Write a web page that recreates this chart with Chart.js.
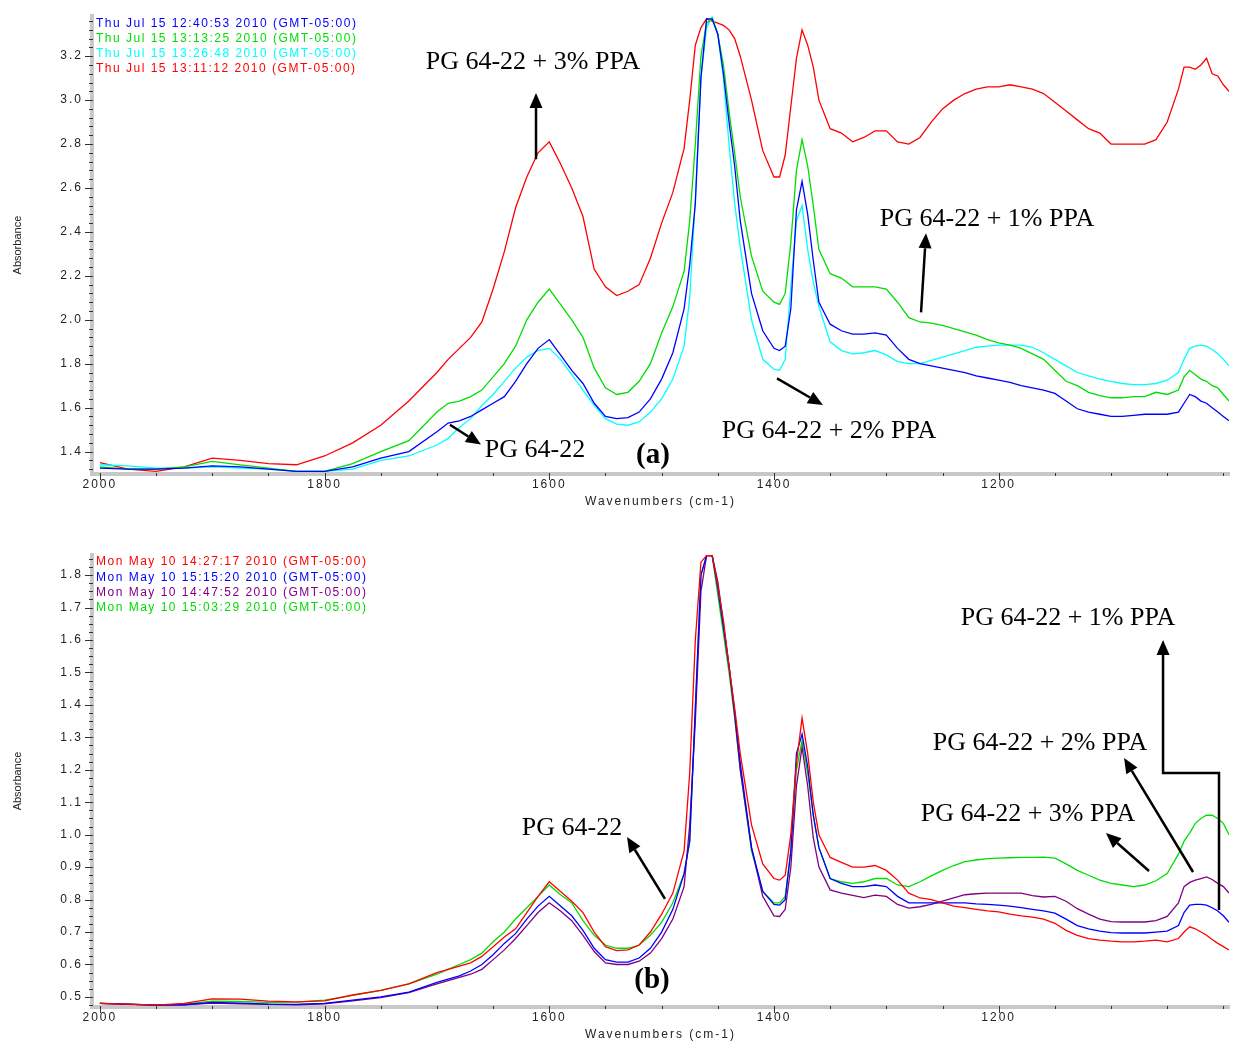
<!DOCTYPE html>
<html>
<head>
<meta charset="utf-8">
<script src="https://cdn.jsdelivr.net/npm/chart.js@4.4.0/dist/chart.umd.min.js"></script>
<style>
  html, body { margin: 0; padding: 0; background: #fff; }
  #wrapA { position: absolute; left: 0; top: 0; width: 1237px; height: 520px; }
  #wrapB { position: absolute; left: 0; top: 520px; width: 1237px; height: 523px; }
</style>
</head>
<body>
<div id="wrapA"><canvas id="chartA"></canvas></div>
<div id="wrapB"><canvas id="chartB"></canvas></div>
<script>
// shared wavenumber grid (cm-1), both panels
const wavenumbers = [
  2000, 1975, 1950, 1925, 1900, 1875, 1850, 1825, 1800, 1775,
  1750, 1725, 1700, 1690, 1680, 1670, 1660, 1650, 1640, 1630,
  1620, 1610, 1600, 1590, 1580, 1570, 1560, 1550, 1540, 1530,
  1520, 1510, 1500, 1490, 1480, 1475, 1470, 1465, 1460, 1455,
  1450, 1445, 1440, 1435, 1430, 1420, 1410, 1400, 1395, 1390,
  1385, 1380, 1375, 1370, 1365, 1360, 1350, 1340, 1330, 1320,
  1310, 1300, 1290, 1280, 1270, 1260, 1250, 1240, 1230, 1220,
  1210, 1200, 1190, 1180, 1170, 1160, 1150, 1140, 1130, 1120,
  1110, 1100, 1090, 1080, 1070, 1060, 1050, 1040, 1035, 1030,
  1025, 1020, 1015, 1010, 1005, 1000, 995
];

// ---- panel (a) absorbance ----
const a_blue = [
  1.325, 1.32, 1.32, 1.325, 1.335, 1.33, 1.32, 1.31, 1.31, 1.33,
  1.37, 1.40, 1.49, 1.53, 1.54, 1.56, 1.59, 1.62, 1.65, 1.72,
  1.80, 1.87, 1.91, 1.84, 1.77, 1.71, 1.62, 1.56, 1.55, 1.555,
  1.58, 1.64, 1.73, 1.85, 2.05, 2.25, 2.53, 3.10, 3.37, 3.37,
  3.30, 3.12, 2.90, 2.70, 2.45, 2.12, 1.95, 1.87, 1.86, 1.88,
  2.05, 2.50, 2.63, 2.48, 2.27, 2.08, 1.98, 1.95, 1.935, 1.935,
  1.94, 1.93, 1.87, 1.82, 1.80, 1.79, 1.78, 1.77, 1.76, 1.745,
  1.735, 1.725, 1.715, 1.70, 1.69, 1.68, 1.665, 1.63, 1.595, 1.58,
  1.57, 1.56, 1.56, 1.565, 1.57, 1.57, 1.57, 1.58, 1.62, 1.66,
  1.65, 1.63, 1.62, 1.60, 1.58, 1.56, 1.54
];
const a_green = [
  1.33, 1.32, 1.32, 1.33, 1.355, 1.34, 1.325, 1.31, 1.31, 1.345,
  1.40, 1.45, 1.58, 1.62, 1.63, 1.65, 1.68, 1.74, 1.80, 1.88,
  2.00, 2.08, 2.14, 2.07, 2.00, 1.92, 1.78, 1.69, 1.66, 1.67,
  1.72, 1.80, 1.94, 2.06, 2.22, 2.45, 2.80, 3.20, 3.35, 3.37,
  3.30, 3.16, 2.95, 2.76, 2.56, 2.29, 2.13, 2.08, 2.07, 2.12,
  2.35, 2.68, 2.82, 2.70, 2.52, 2.32, 2.21, 2.19, 2.15, 2.15,
  2.15, 2.14, 2.08, 2.01, 1.99, 1.985, 1.975, 1.96, 1.945, 1.93,
  1.91, 1.895, 1.885, 1.87, 1.845, 1.82, 1.77, 1.72, 1.70, 1.67,
  1.655, 1.645, 1.645, 1.65, 1.65, 1.67, 1.66, 1.68, 1.74, 1.77,
  1.75, 1.73, 1.72, 1.70, 1.69, 1.66, 1.63
];
const a_cyan = [
  1.34, 1.335, 1.325, 1.325, 1.33, 1.325, 1.32, 1.31, 1.31, 1.32,
  1.36, 1.38, 1.43, 1.46, 1.51, 1.55, 1.61, 1.66, 1.72, 1.78,
  1.83, 1.86, 1.87, 1.82, 1.75, 1.68, 1.61, 1.55, 1.525, 1.52,
  1.535, 1.58, 1.64, 1.73, 1.88, 2.10, 2.55, 3.10, 3.33, 3.38,
  3.30, 3.10, 2.80, 2.53, 2.33, 2.00, 1.82, 1.775, 1.77, 1.82,
  2.15, 2.45, 2.52, 2.32, 2.17, 2.06, 1.90, 1.86, 1.845, 1.85,
  1.86, 1.84, 1.81, 1.80, 1.80, 1.815, 1.83, 1.845, 1.86, 1.875,
  1.88, 1.885, 1.885, 1.885, 1.875, 1.85, 1.82, 1.79, 1.76, 1.745,
  1.73, 1.72, 1.71, 1.705, 1.705, 1.71, 1.725, 1.76, 1.82, 1.87,
  1.88, 1.885, 1.88, 1.865, 1.845, 1.82, 1.79
];
const a_red = [
  1.35, 1.32, 1.31, 1.33, 1.37, 1.36, 1.345, 1.34, 1.38, 1.44,
  1.52, 1.63, 1.76, 1.82, 1.87, 1.92, 1.99, 2.14, 2.31, 2.51,
  2.65, 2.76, 2.81, 2.71, 2.60, 2.47, 2.23, 2.15, 2.11, 2.13,
  2.16, 2.28, 2.44, 2.58, 2.78, 3.00, 3.25, 3.33, 3.37, 3.36,
  3.35, 3.34, 3.32, 3.28, 3.20, 3.00, 2.77, 2.65, 2.65, 2.75,
  2.97, 3.19, 3.32, 3.25, 3.15, 3.00, 2.87, 2.85, 2.81, 2.83,
  2.86, 2.86, 2.81, 2.80, 2.83, 2.90, 2.96, 3.00, 3.03, 3.05,
  3.06, 3.06, 3.07, 3.06, 3.05, 3.03, 2.99, 2.95, 2.91, 2.87,
  2.85, 2.80, 2.80, 2.80, 2.80, 2.82, 2.90, 3.05, 3.15, 3.15,
  3.14, 3.16, 3.19, 3.12, 3.11, 3.07, 3.04
];

// ---- panel (b) absorbance ----
const b_red = [
  0.48, 0.478, 0.475, 0.48, 0.494, 0.493, 0.487, 0.485, 0.488, 0.506,
  0.52, 0.54, 0.575, 0.585, 0.595, 0.605, 0.625, 0.655, 0.685, 0.71,
  0.76, 0.81, 0.855, 0.825, 0.795, 0.76, 0.70, 0.655, 0.643, 0.645,
  0.66, 0.70, 0.755, 0.82, 0.95, 1.19, 1.60, 1.84, 1.86, 1.86,
  1.77, 1.66, 1.52, 1.39, 1.25, 1.03, 0.91, 0.865, 0.86, 0.875,
  1.00, 1.22, 1.36, 1.25, 1.10, 1.00, 0.93, 0.915, 0.90, 0.90,
  0.905, 0.89, 0.86, 0.82, 0.805, 0.80, 0.79, 0.78, 0.775, 0.77,
  0.765, 0.762, 0.755, 0.75, 0.746, 0.74, 0.727, 0.705, 0.69, 0.68,
  0.675, 0.672, 0.67, 0.67, 0.672, 0.675, 0.67, 0.68, 0.70, 0.716,
  0.71, 0.70, 0.69, 0.677, 0.665, 0.655, 0.645
];
const b_blue = [
  0.48, 0.478, 0.475, 0.476, 0.483, 0.481, 0.478, 0.477, 0.48, 0.49,
  0.50, 0.515, 0.545, 0.555, 0.565, 0.58, 0.60, 0.63, 0.665, 0.695,
  0.74, 0.78, 0.81, 0.78, 0.75, 0.705, 0.65, 0.615, 0.607, 0.607,
  0.62, 0.65, 0.70, 0.77, 0.88, 0.98, 1.39, 1.80, 1.86, 1.86,
  1.76, 1.64, 1.52, 1.38, 1.22, 0.96, 0.825, 0.785, 0.783, 0.80,
  0.95, 1.25, 1.31, 1.21, 1.06, 0.96, 0.865, 0.85, 0.84, 0.84,
  0.845, 0.84, 0.81, 0.79, 0.79, 0.79, 0.79, 0.79, 0.79, 0.787,
  0.785, 0.783, 0.78, 0.775, 0.77, 0.765, 0.758, 0.74, 0.72, 0.71,
  0.703, 0.698, 0.697, 0.697, 0.697, 0.70, 0.703, 0.72, 0.76, 0.783,
  0.785, 0.785, 0.783, 0.775, 0.765, 0.75, 0.73
];
const b_purple = [
  0.48, 0.477, 0.475, 0.476, 0.481, 0.479, 0.477, 0.476, 0.479, 0.488,
  0.498, 0.513, 0.54, 0.55, 0.56, 0.57, 0.585, 0.615, 0.645, 0.68,
  0.72, 0.76, 0.79, 0.765, 0.735, 0.69, 0.64, 0.605, 0.60, 0.60,
  0.61, 0.635, 0.68, 0.74, 0.84, 1.03, 1.35, 1.75, 1.86, 1.86,
  1.78, 1.65, 1.52, 1.37, 1.20, 0.96, 0.81, 0.75, 0.748, 0.77,
  0.90, 1.15, 1.27, 1.15, 0.99, 0.90, 0.83, 0.82, 0.813, 0.806,
  0.814, 0.81, 0.785, 0.774, 0.778, 0.785, 0.795, 0.805, 0.815, 0.818,
  0.82, 0.82, 0.82, 0.82, 0.812, 0.808, 0.81, 0.795, 0.772, 0.755,
  0.74, 0.732, 0.731, 0.731, 0.731, 0.735, 0.748, 0.79, 0.84, 0.853,
  0.86, 0.865, 0.87, 0.862, 0.85, 0.84, 0.82
];
const b_green = [
  0.48, 0.478, 0.475, 0.478, 0.487, 0.486, 0.483, 0.484, 0.49, 0.505,
  0.52, 0.54, 0.57, 0.585, 0.60, 0.615, 0.635, 0.67, 0.70, 0.74,
  0.775, 0.81, 0.845, 0.815, 0.79, 0.735, 0.69, 0.66, 0.65, 0.65,
  0.66, 0.69, 0.73, 0.79, 0.88, 0.98, 1.39, 1.80, 1.86, 1.86,
  1.74, 1.62, 1.50, 1.36, 1.20, 0.95, 0.825, 0.79, 0.79, 0.81,
  0.95, 1.20, 1.29, 1.19, 1.06, 0.96, 0.865, 0.855, 0.85, 0.855,
  0.865, 0.865, 0.845, 0.84, 0.855, 0.873, 0.89, 0.905, 0.917, 0.922,
  0.926, 0.928, 0.929, 0.93, 0.93, 0.931, 0.928, 0.91, 0.89, 0.875,
  0.86, 0.85, 0.845, 0.84, 0.845, 0.858, 0.88, 0.94, 0.98, 1.005,
  1.035, 1.05, 1.06, 1.06, 1.05, 1.035, 1.00
];

// legend (timestamp) lines, in the order shown
const legendA = ["Thu Jul 15 12:40:53 2010 (GMT-05:00)", "Thu Jul 15 13:13:25 2010 (GMT-05:00)",
                 "Thu Jul 15 13:26:48 2010 (GMT-05:00)", "Thu Jul 15 13:11:12 2010 (GMT-05:00)"];
const legendB = ["Mon May 10 14:27:17 2010 (GMT-05:00)", "Mon May 10 15:15:20 2010 (GMT-05:00)",
                 "Mon May 10 14:47:52 2010 (GMT-05:00)", "Mon May 10 15:03:29 2010 (GMT-05:00)"];

// annotation anchors in data units: [wavenumber, absorbance]
const notesA = ["PG 64-22 + 3% PPA", "PG 64-22 + 1% PPA", "PG 64-22 + 2% PPA", "PG 64-22"];
const notesAAt = [[1614.5, 3.171], [1210.4, 2.457], [1351, 1.495], [1612.7, 1.405]];
const arrowsA = [
  [[1611.8, 2.731], [1611.8, 3.032]],
  [[1269.1, 2.034], [1264.7, 2.394]],
  [[1397.3, 1.733], [1356.4, 1.612]],
  [[1688.4, 1.522], [1660.8, 1.432]]
];
const notesB = ["PG 64-22", "PG 64-22 + 1% PPA", "PG 64-22 + 2% PPA", "PG 64-22 + 3% PPA"];
const notesBAt = [[1579.8, 1.021], [1138.3, 1.668], [1163.2, 1.283], [1173.9, 1.064]];
const arrowsB = [
  [[1497, 0.802], [1530.8, 0.993]],
  [[1003.9, 0.768], [1003.9, 1.190], [1053.7, 1.190], [1053.7, 1.600]],
  [[1027, 0.885], [1088.4, 1.236]],
  [[1066.2, 0.888], [1104.5, 1.005]]
];

const SANS = '"Liberation Sans", Arial, sans-serif';
const SERIF = '"Liberation Serif", "Times New Roman", serif';
Chart.defaults.font.family = SANS;

function onStep(v, step) {
  const r = v / step;
  return Math.abs(r - Math.round(r)) < 1e-6;
}

function drawArrow(ctx, pts) {
  const head = 15, half = 6.5;
  const n = pts.length;
  const [x1, y1] = pts[n - 2], [x2, y2] = pts[n - 1];
  const a = Math.atan2(y2 - y1, x2 - x1);
  const bx = x2 - head * Math.cos(a), by = y2 - head * Math.sin(a);
  ctx.beginPath();
  ctx.moveTo(pts[0][0], pts[0][1]);
  for (let i = 1; i < n - 1; i++) ctx.lineTo(pts[i][0], pts[i][1]);
  ctx.lineTo(bx, by);
  ctx.stroke();
  ctx.beginPath();
  ctx.moveTo(x2, y2);
  ctx.lineTo(bx + half * Math.sin(a), by - half * Math.cos(a));
  ctx.lineTo(bx - half * Math.sin(a), by + half * Math.cos(a));
  ctx.closePath();
  ctx.fill();
}

// draws axis dashes, timestamp legend, y title and the text/arrow notes
function makeDecor(legend, colors, notes, notesAt, arrows, panel, panelAt) {
  return {
    id: 'decor',
    beforeDraw(chart) { chart.ctx.letterSpacing = '2px'; },
    afterDraw(chart) {
      const { ctx, chartArea: ca, scales: { x, y } } = chart;
      ctx.save();
      // tick dashes on grey axis bars
      ctx.strokeStyle = '#333';
      ctx.lineWidth = 1;
      x.ticks.forEach(t => {
        const px = Math.round(x.getPixelForValue(t.value)) + 0.5;
        ctx.beginPath();
        ctx.moveTo(px, ca.bottom - 1);
        ctx.lineTo(px, ca.bottom + (t.label !== '' ? 6 : 2));
        ctx.stroke();
      });
      y.ticks.forEach(t => {
        const py = Math.round(y.getPixelForValue(t.value)) + 0.5;
        ctx.beginPath();
        ctx.moveTo(ca.left + 1, py);
        ctx.lineTo(ca.left - (t.label !== '' ? 7 : 3), py);
        ctx.stroke();
      });

      // timestamp legend
      ctx.font = '12px ' + SANS;
      ctx.letterSpacing = '1.5px';
      ctx.textAlign = 'left';
      ctx.textBaseline = 'middle';
      legend.forEach((s, i) => {
        ctx.fillStyle = colors[i];
        ctx.fillText(s, ca.left + 4, ca.top + 7 + i * 15.3);
      });

      // y axis title
      ctx.letterSpacing = '0px';
      ctx.fillStyle = '#222';
      ctx.font = '11px ' + SANS;
      ctx.textAlign = 'center';
      ctx.save();
      ctx.translate(18, (ca.top + ca.bottom) / 2);
      ctx.rotate(-Math.PI / 2);
      ctx.fillText('Absorbance', 0, 0);
      ctx.restore();

      // notes
      ctx.fillStyle = '#000';
      ctx.strokeStyle = '#000';
      ctx.lineWidth = 2.5;
      ctx.font = '26px ' + SERIF;
      notes.forEach((s, i) => {
        ctx.fillText(s, x.getPixelForValue(notesAt[i][0]), y.getPixelForValue(notesAt[i][1]));
      });
      arrows.forEach(a => drawArrow(ctx, a.map(p => [x.getPixelForValue(p[0]), y.getPixelForValue(p[1])])));
      ctx.font = 'bold 29px ' + SERIF;
      ctx.fillText(panel, x.getPixelForValue(panelAt[0]), y.getPixelForValue(panelAt[1]));
      ctx.restore();
    }
  };
}

function series(vals, color) {
  return {
    data: wavenumbers.map((w, i) => ({ x: w, y: vals[i] })),
    borderColor: color,
    borderWidth: 1.3,
    pointRadius: 0,
    tension: 0,
    fill: false
  };
}

function buildOptions(yMin, yMax, yStep, yMajor, padTop, xHeight, titlePad) {
  return {
    responsive: true,
    maintainAspectRatio: false,
    animation: false,
    devicePixelRatio: 1,
    layout: { padding: { top: padTop, right: 8, left: 0, bottom: 0 } },
    plugins: { legend: { display: false }, tooltip: { enabled: false } },
    scales: {
      x: {
        type: 'linear',
        reverse: true,
        min: 995,
        max: 2007,
        afterFit: s => { s.height = xHeight; },
        border: { display: true, color: '#c8c8c8', width: 4 },
        grid: { drawOnChartArea: false, drawTicks: false, color: 'transparent' },
        ticks: {
          stepSize: 50,
          includeBounds: false,
          autoSkip: false,
          maxRotation: 0,
          padding: 3,
          color: '#222',
          font: { size: 12 },
          callback: v => (onStep(v, 200) && v >= 1200) ? String(Math.round(v)) : ''
        },
        title: {
          display: true,
          text: 'Wavenumbers (cm-1)',
          color: '#222',
          font: { size: 12 },
          padding: { top: 0, bottom: titlePad }
        }
      },
      y: {
        type: 'linear',
        min: yMin,
        max: yMax,
        afterFit: s => { s.width = 92; },
        border: { display: true, color: '#c8c8c8', width: 4 },
        grid: { drawOnChartArea: false, drawTicks: false, color: 'transparent' },
        ticks: {
          stepSize: yStep,
          includeBounds: false,
          autoSkip: false,
          padding: 9,
          color: '#222',
          font: { size: 12 },
          callback: v => onStep(v, yMajor) ? v.toFixed(1) : ''
        }
      }
    }
  };
}

const colorsA = ['#0000ff', '#00dd00', '#00ffff', '#ff0000'];
new Chart(document.getElementById('chartA'), {
  type: 'line',
  data: {
    datasets: [
      series(a_blue, colorsA[0]),
      series(a_green, colorsA[1]),
      series(a_cyan, colorsA[2]),
      series(a_red, colorsA[3])
    ]
  },
  options: buildOptions(1.298, 3.382, 0.04, 0.2, 10, 46, 11),
  plugins: [makeDecor(legendA, colorsA, notesA, notesAAt, arrowsA, '(a)', [1507.7, 1.383])]
});

const colorsB = ['#ff0000', '#0000ff', '#800080', '#00dd00'];
new Chart(document.getElementById('chartB'), {
  type: 'line',
  data: {
    datasets: [
      series(b_red, colorsB[0]),
      series(b_blue, colorsB[1]),
      series(b_purple, colorsB[2]),
      series(b_green, colorsB[3])
    ]
  },
  options: buildOptions(0.469, 1.862, 0.025, 0.1, 35, 36, 1),
  plugins: [makeDecor(legendB, colorsB, notesB, notesBAt, arrowsB, '(b)', [1508.6, 0.552])]
});
</script>
</body>
</html>
